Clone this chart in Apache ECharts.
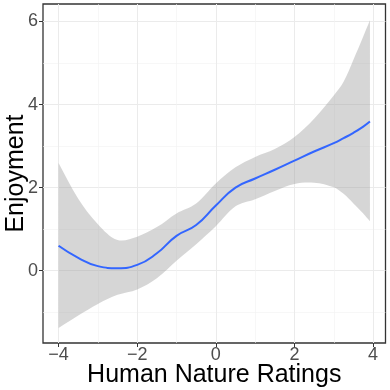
<!DOCTYPE html>
<html lang="en">
<head>
  <meta charset="UTF-8">
  <title>Enjoyment vs Human Nature Ratings</title>
  <style>
    html, body { margin: 0; padding: 0; background: #fff; }
    #chart { width: 390px; height: 390px; }
  </style>
  <script src="https://cdn.jsdelivr.net/npm/echarts@6/dist/echarts.min.js"></script>
</head>
<body>
  <div id="chart"></div>
  <script>
    // loess fit with 95% band
    var xs    = [-4, -3.5, -3, -2.5, -2, -1.5, -1, -0.5, 0, 0.5, 1, 1.5, 2, 2.5, 3, 3.25, 3.5, 3.75, 3.92];
    var fit   = [0.60, 0.31, 0.11, 0.06, 0.14, 0.42, 0.84, 1.10, 1.57, 2.00, 2.22, 2.43, 2.65, 2.87, 3.07, 3.19, 3.32, 3.47, 3.59];
    var upper = [2.59, 1.73, 1.12, 0.74, 0.82, 1.05, 1.38, 1.62, 2.10, 2.49, 2.74, 2.93, 3.22, 3.66, 4.22, 4.55, 5.08, 5.64, 6.03];
    var lower = [-1.38, -1.08, -0.80, -0.58, -0.45, -0.18, 0.24, 0.64, 1.07, 1.55, 1.72, 1.92, 2.09, 2.12, 2.01, 1.85, 1.62, 1.38, 1.19];

    var xTicks = [-4, -2, 0, 2, 4];
    var yTicks = [0, 2, 4, 6];
    var xMinor = [-3, -1, 1, 3];
    var yMinor = [-1, 1, 3, 5];
    var xRange = [-4.396, 4.316];
    var yRange = [-1.74, 6.42];

    var font = 'Liberation Sans, Arial, sans-serif';
    function minus(v) { return v < 0 ? '\u2212' + (-v) : String(v); }

    var myChart = echarts.init(document.getElementById('chart'));

    var bandData = xs.map(function (x, i) { return [x, lower[i], upper[i]]; });
    var fitData = xs.map(function (x, i) { return [x, fit[i]]; });

    // whole ribbon as one polygon: upper edge left->right, lower edge back.
    // end points are doubled so the two ends stay straight vertical edges
    function renderBand(params, api) {
      if (params.dataIndex !== 0) return null;
      var top = [], bottom = [];
      for (var i = 0; i < bandData.length; i++) {
        top.push(api.coord([bandData[i][0], bandData[i][2]]));
        bottom.unshift(api.coord([bandData[i][0], bandData[i][1]]));
      }
      top.unshift(top[0]); top.push(top[top.length - 1]);
      bottom.unshift(bottom[0]); bottom.push(bottom[bottom.length - 1]);
      var pts = top.concat(bottom);
      var lo = [Infinity, Infinity], hi = [-Infinity, -Infinity];
      pts.forEach(function (p) {
        lo[0] = Math.min(lo[0], p[0]); lo[1] = Math.min(lo[1], p[1]);
        hi[0] = Math.max(hi[0], p[0]); hi[1] = Math.max(hi[1], p[1]);
      });
      return {
        type: 'polygon',
        shape: { points: pts, smooth: 0.35, smoothConstraint: [lo, hi] },
        style: { fill: 'rgba(153,153,153,0.4)' },
        silent: true
      };
    }

    function gridAxis(ticks, range, extra) {
      return Object.assign({
        type: 'value', min: range[0], max: range[1],
        axisLine: { show: false },
        axisTick: { show: false, customValues: ticks },
        axisLabel: { show: false, customValues: ticks },
        splitLine: { show: true, lineStyle: { color: '#f2f2f2', width: 0.6 } }
      }, extra);
    }

    var option = {
      animation: false,
      grid: {
        left: 43, right: 4.5, top: 4, bottom: 47,
        outerBoundsMode: 'none',
        show: true, borderColor: '#333', borderWidth: 1.3, backgroundColor: '#fff'
      },
      xAxis: [{
        type: 'value', min: xRange[0], max: xRange[1],
        name: 'Human Nature Ratings', nameLocation: 'middle', nameGap: 20, nameMoveOverlap: false,
        nameTextStyle: { fontFamily: font, fontSize: 25, color: '#000' },
        axisLine: { show: false, onZero: false },
        axisTick: { show: true, length: 4, customValues: xTicks, lineStyle: { color: '#333', width: 1 } },
        axisLabel: { customValues: xTicks, formatter: minus, margin: 3, fontFamily: font, fontSize: 18, color: '#4d4d4d' },
        splitLine: { show: true, lineStyle: { color: '#ebebeb', width: 1 } }
      }, gridAxis(xMinor, xRange, { position: 'bottom' })],
      yAxis: [{
        type: 'value', min: yRange[0], max: yRange[1],
        name: 'Enjoyment', nameLocation: 'middle', nameGap: 14.5, nameMoveOverlap: false,
        nameTextStyle: { fontFamily: font, fontSize: 25, color: '#000' },
        axisLine: { show: false, onZero: false },
        axisTick: { show: true, length: 4, customValues: yTicks, lineStyle: { color: '#333', width: 1 } },
        axisLabel: { customValues: yTicks, formatter: minus, margin: 5, fontFamily: font, fontSize: 18, color: '#4d4d4d' },
        splitLine: { show: true, lineStyle: { color: '#ebebeb', width: 1 } }
      }, gridAxis(yMinor, yRange, { position: 'left' })],
      series: [{
        name: 'band', type: 'custom', renderItem: renderBand,
        data: bandData, silent: true, clip: true, z: 1
      }, {
        name: 'fit', type: 'line', smooth: true, symbol: 'none', z: 2,
        lineStyle: { color: '#3366FF', width: 2 },
        data: fitData
      }]
    };

    myChart.setOption(option);
  </script>
</body>
</html>
